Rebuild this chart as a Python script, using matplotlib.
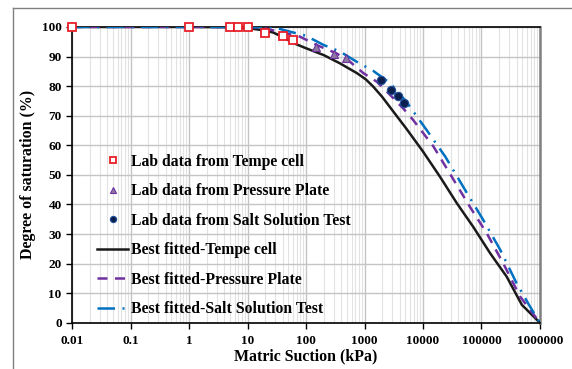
import matplotlib
matplotlib.use("Agg")
import matplotlib.pyplot as plt
from matplotlib.lines import Line2D
import numpy as np

plt.rcParams['font.family'] = ['Liberation Serif', 'DejaVu Serif']
plt.rcParams['font.weight'] = 'bold'

# lab data
tempe_x = [0.01, 1, 5, 7, 10, 20, 40, 60]
tempe_y = [100, 100, 100, 100, 100, 98, 97.1, 95.6]

plate_x = [150, 300, 480]
plate_y = [93.2, 91.0, 89.4]

salt_x = [1880, 2790, 3760, 4760]
salt_y = [82.1, 78.7, 76.7, 74.4]

fit_tempe_x = [0.01, 1, 5, 10, 20, 27.5, 40, 60, 100, 200, 380, 740, 1050, 1400,
               2000, 2750, 5250, 10000, 19500, 38000, 72000, 141000, 270000,
               490000, 1000000]
fit_tempe_y = [100, 100, 99.9, 99.6, 98.8, 98.1, 96.6, 94.6, 92.8, 90.5, 87.7,
               84.4, 82.3, 79.9, 76.4, 72.8, 65.5, 57.9, 49.4, 40.4, 32.5, 23.5,
               15.6, 6.1, 0]

fit_plate_x = [0.01, 1, 10, 20, 79, 155, 330, 560, 955, 1620, 2750, 4570, 6760,
               15100, 31000, 63000, 123000, 234000, 457000, 1000000]
fit_plate_y = [100, 100, 100, 99.5, 96.7, 93.8, 91.1, 88.3, 84.4, 81.5, 77.0,
               72.5, 68.6, 59.6, 49.4, 39.3, 30.3, 20.2, 8.9, 0]

fit_salt_x = [0.01, 1, 10, 27.5, 100, 200, 380, 740, 1400, 2750, 5250, 7200,
              11500, 24000, 52500, 107000, 209000, 398000, 676000, 1000000]
fit_salt_y = [100, 100, 100, 99.9, 97.0, 93.9, 91.7, 88.2, 85.2, 81.0, 74.6,
              70.8, 65.2, 56.2, 44.9, 34.8, 24.7, 13.4, 5.5, 0]

fig = plt.figure(figsize=(5.72, 3.69), dpi=100)
ax = fig.add_axes([0.126, 0.125, 0.818, 0.802])

blue = '#0070C0'
purple = '#7030A0'

ax.plot(fit_tempe_x, fit_tempe_y, color='#1a1a1a', lw=1.8, label='Best fitted-Tempe cell', zorder=3)
ax.plot(fit_plate_x, fit_plate_y, color=purple, lw=1.8, dashes=(4, 3),
        label='Best fitted-Pressure Plate', zorder=3)
ax.plot(fit_salt_x, fit_salt_y, color=blue, lw=1.8, dashes=(7, 3, 0.8, 3),
        label='Best fitted-Salt Solution Test', zorder=3)

ax.plot(tempe_x, tempe_y, 's', ms=5.5, mfc='white', mec='#e8202a', mew=1.3,
        ls='none', label='Lab data from Tempe cell', zorder=5, clip_on=False)
ax.plot(plate_x, plate_y, '^', ms=6, mfc='#8c7aa0', mec=purple, mew=0.8,
        ls='none', label='Lab data from Pressure Plate', zorder=5)
ax.plot(salt_x, salt_y, 'o', ms=6, mfc='#0a1f4d', mec='#1f4e9a', mew=0.8,
        ls='none', label='Lab data from Salt Solution Test', zorder=5)

ax.set_xscale('log')
ax.set_xlim(0.01, 1000000)
ax.set_ylim(0, 100)
ax.set_yticks(np.arange(0, 101, 10))
ax.set_xticks([10.0 ** k for k in range(-2, 7)])
ax.set_xticklabels(['0.01', '0.1', '1', '10', '100', '1000', '10000', '100000', '1000000'])

ax.grid(True, which='major', color='#c4c4c4', lw=1.0)
ax.grid(True, which='minor', axis='x', color='#e2e2e2', lw=0.8)
ax.set_axisbelow(True)

ax.tick_params(axis='both', which='major', direction='out', length=4, width=1,
               labelsize=9.5, colors='black')
ax.tick_params(axis='x', which='minor', length=0)
ax.tick_params(axis='x', pad=5)
for lab in ax.get_xticklabels() + ax.get_yticklabels():
    lab.set_fontweight('bold')

for s in ['left', 'bottom', 'top']:
    ax.spines[s].set_color('black')
    ax.spines[s].set_linewidth(1.2)
ax.spines['right'].set_color('#808080')
ax.spines['right'].set_linewidth(1.8)

ax.set_xlabel('Matric Suction (kPa)', fontsize=11.4, fontweight='bold', labelpad=1)
ax.set_ylabel('Degree of saturation (%)', fontsize=11.4, fontweight='bold', labelpad=4)

h, l = ax.get_legend_handles_labels()
order = [3, 4, 5, 0, 1, 2]
ax.legend([h[i] for i in order], [l[i] for i in order], loc='upper left',
          bbox_to_anchor=(0.053, 0.571), frameon=False,
          prop={'weight': 'bold', 'size': 11.3}, handlelength=2.0,
          handletextpad=0.15, labelspacing=0.86, borderpad=0, borderaxespad=0,
          markerscale=0.75)

# outer frame of the original figure
fig.add_artist(Line2D([0.0227, 0.0227], [0.0, 0.978], color='#808080', lw=1.0))
fig.add_artist(Line2D([0.0227, 1.0], [0.978, 0.978], color='#808080', lw=1.0))

fig.savefig('out.png', dpi=100)
